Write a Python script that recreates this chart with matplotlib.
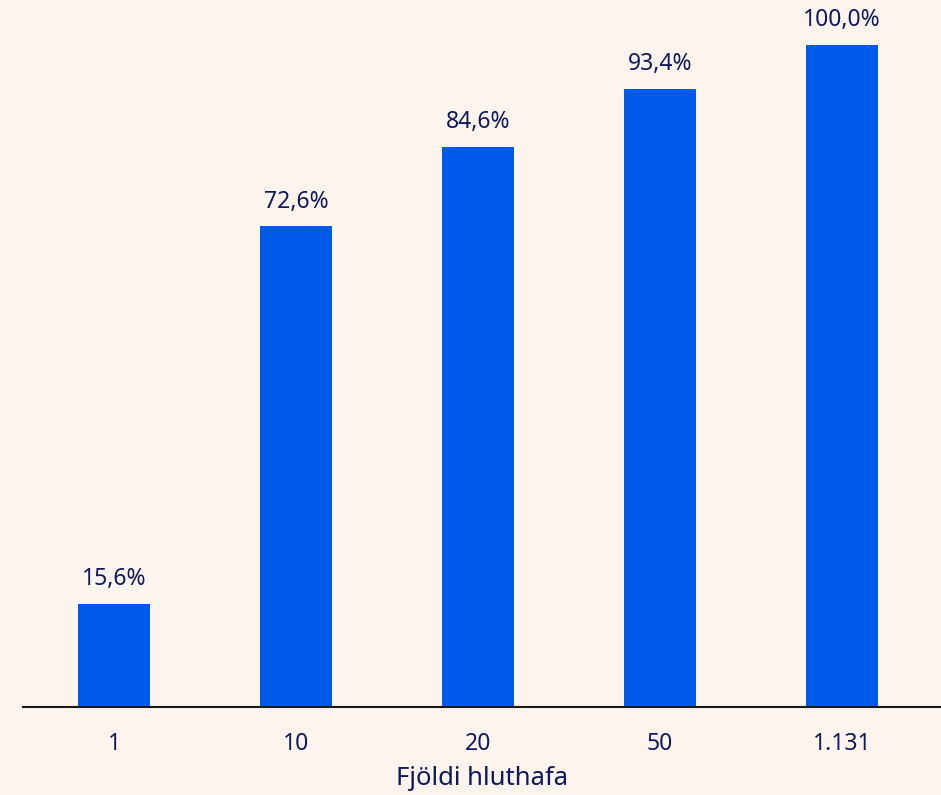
import matplotlib.pyplot as plt

categories = ['1', '10', '20', '50', '1.131']
values = [15.6, 72.6, 84.6, 93.4, 100.0]
labels = ['15,6%', '72,6%', '84,6%', '93,4%', '100,0%']

bg = '#fdf4ee'
navy = '#0e1a5c'
blue = '#005ae9'

plt.rcParams['font.family'] = ['Noto Sans', 'DejaVu Sans']

fig = plt.figure(figsize=(9.41, 7.95), dpi=100, facecolor=bg)
ax = fig.add_axes([23 / 941, 88 / 795, 1 - 23 / 941, 707 / 795])
ax.set_facecolor(bg)

x = list(range(len(categories)))
bars = ax.bar(x, values, width=0.4, color=blue)
for b, lab in zip(bars, labels):
    ax.text(b.get_x() + b.get_width() / 2, b.get_height() + 1.9, lab,
            ha='center', va='bottom', color=navy, fontsize=16.5)

ax.set_xlim(-0.5, 4.544)
ax.set_ylim(0, 106.8)
ax.set_xticks(x)
ax.set_xticklabels(categories, fontsize=16.5, color=navy)
ax.tick_params(axis='x', length=0, pad=18)
ax.set_yticks([])
for s in ['top', 'right', 'left']:
    ax.spines[s].set_visible(False)
ax.spines['bottom'].set_color('#1a1a1a')
ax.spines['bottom'].set_linewidth(1.5)
ax.set_xlabel('Fjöldi hluthafa', fontsize=18.5, color=navy, labelpad=7)

plt.savefig('out.png', dpi=100, facecolor=bg)
